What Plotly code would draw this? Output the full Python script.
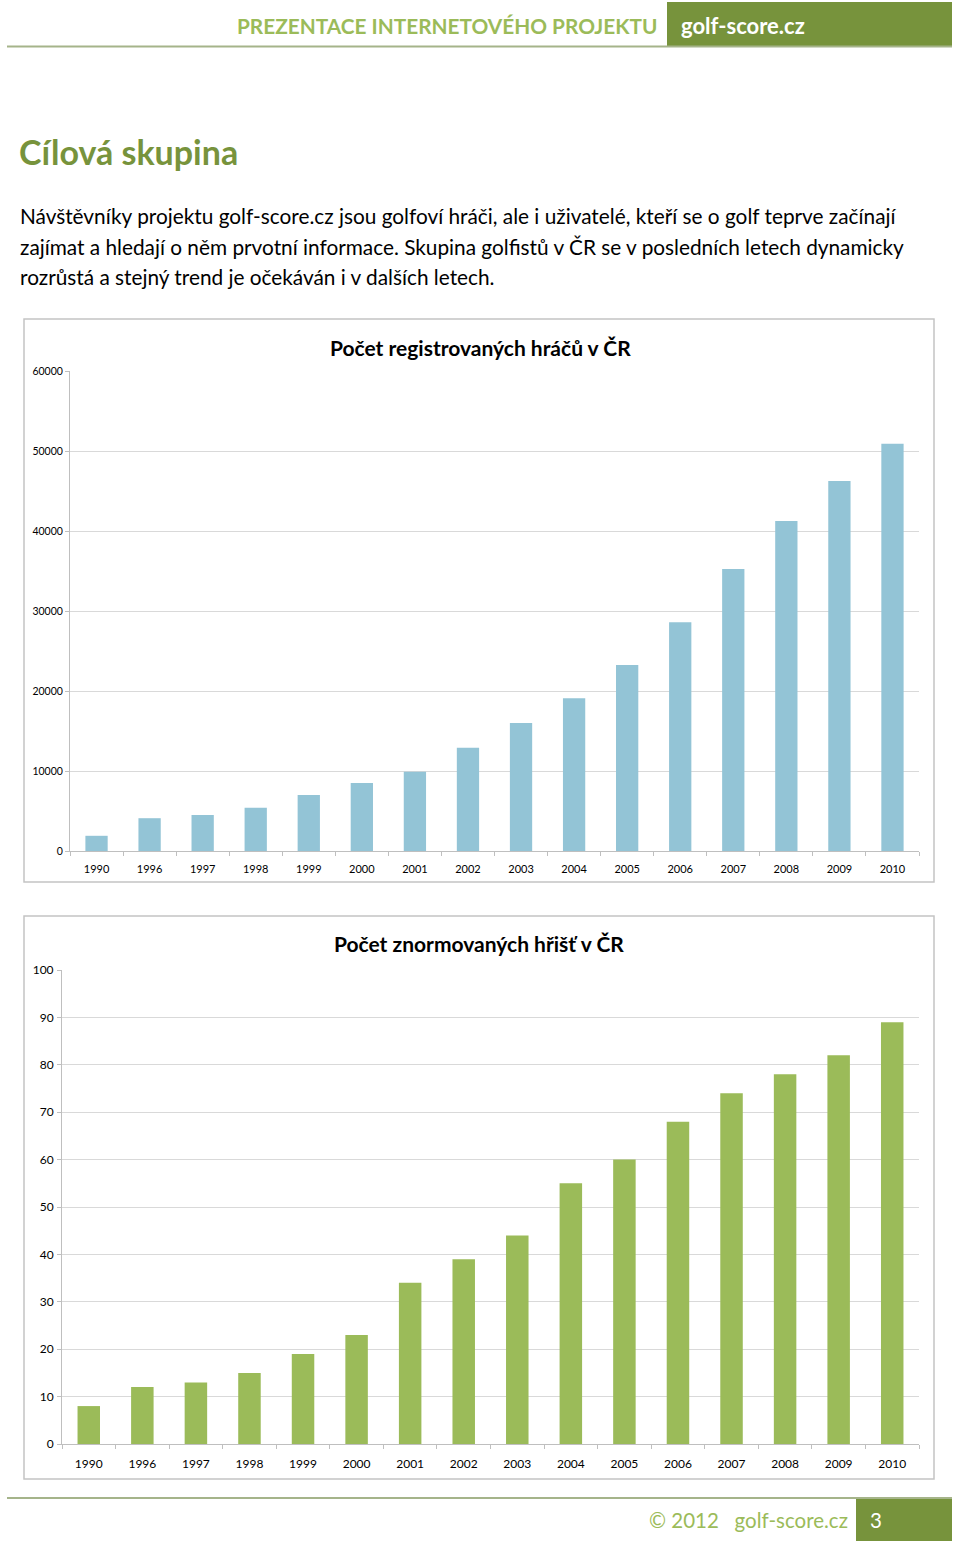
import plotly.graph_objects as go

years = ["1990", "1996", "1997", "1998", "1999", "2000", "2001", "2002",
         "2003", "2004", "2005", "2006", "2007", "2008", "2009", "2010"]
players = [1900, 4100, 4500, 5400, 7000, 8500, 9900, 12900,
           16000, 19100, 23250, 28600, 35250, 41250, 46250, 50900]
courses = [8, 12, 13, 15, 19, 23, 34, 39, 44, 55, 60, 68, 74, 78, 82, 89]

W, H = 960, 1545
FONT = "Lato"
GREEN_DARK = "#77933c"
GREEN_LIGHT = "#9bbb59"
BLUE = "#93c4d6"


def px(x):
    return x / W


def py(y):
    return 1 - y / H


fig = go.Figure()
fig.add_trace(go.Bar(x=years, y=players, marker=dict(color=BLUE, line=dict(width=0)),
                     xaxis="x", yaxis="y", hoverinfo="x+y"))
fig.add_trace(go.Bar(x=years, y=courses, marker=dict(color=GREEN_LIGHT, line=dict(width=0)),
                     xaxis="x2", yaxis="y2", hoverinfo="x+y"))

axis_common = dict(showline=True, linecolor="#bfbfbf", linewidth=1, automargin=False,
                   ticks="outside", tickcolor="#bfbfbf", ticklen=4)

fig.update_layout(
    width=W, height=H,
    margin=dict(l=0, r=0, t=0, b=0, pad=0, autoexpand=False),
    paper_bgcolor="white", plot_bgcolor="white",
    showlegend=False,
    bargap=0.58,
    xaxis=dict(domain=[px(70), px(919)], anchor="y", tickson="boundaries",
               showgrid=False, ticklabelstandoff=8,
               tickfont=dict(family=FONT, size=11, color="#000000"), **axis_common),
    yaxis=dict(domain=[py(851), py(371)], anchor="x", range=[0, 60000],
               dtick=10000, tickformat="d", showgrid=True, gridcolor="#d9d9d9", gridwidth=1,
               zeroline=False, ticklabelstandoff=0,
               tickfont=dict(family=FONT, size=10.5, color="#000000"), **axis_common),
    xaxis2=dict(domain=[px(62), px(919)], anchor="y2", tickson="boundaries",
                showgrid=False, ticklabelstandoff=9,
                tickfont=dict(family=FONT, size=12, color="#000000"), **axis_common),
    yaxis2=dict(domain=[py(1444), py(970)], anchor="x2", range=[0, 100],
                dtick=10, showgrid=True, gridcolor="#d9d9d9", gridwidth=1,
                zeroline=False, ticklabelstandoff=1,
                tickfont=dict(family=FONT, size=12, color="#000000"), **axis_common),
)

shapes = [
    # header box and rule
    dict(type="rect", xref="paper", yref="paper", x0=px(667), x1=px(952), y0=py(46), y1=py(2),
         fillcolor=GREEN_DARK, line=dict(width=0), layer="below"),
    dict(type="line", xref="paper", yref="paper", x0=px(7), x1=px(952), y0=py(46.5), y1=py(46.5),
         line=dict(color="#a5b48a", width=2)),
    # chart frames
    dict(type="rect", xref="paper", yref="paper", x0=px(24), x1=px(934), y0=py(882), y1=py(319),
         line=dict(color="#c4c4c4", width=1.5), fillcolor="rgba(0,0,0,0)", layer="below"),
    dict(type="rect", xref="paper", yref="paper", x0=px(24), x1=px(934), y0=py(1479), y1=py(916),
         line=dict(color="#c4c4c4", width=1.5), fillcolor="rgba(0,0,0,0)", layer="below"),
    # footer rule and box
    dict(type="line", xref="paper", yref="paper", x0=px(7), x1=px(952), y0=py(1498), y1=py(1498),
         line=dict(color="#a5b48a", width=2)),
    dict(type="rect", xref="paper", yref="paper", x0=px(856), x1=px(952), y0=py(1541), y1=py(1498),
         fillcolor=GREEN_DARK, line=dict(width=0), layer="below"),
]
fig.update_layout(shapes=shapes)


def text(x, y, s, size, color="#000000", bold=False, anchor="left"):
    fig.add_annotation(x=px(x), y=py(y), xref="paper", yref="paper", text=(f"<b>{s}</b>" if bold else s),
                       showarrow=False, xanchor=anchor, yanchor="middle",
                       font=dict(family=FONT, size=size, color=color))


text(235, 25, "PREZENTACE INTERNETOVÉHO PROJEKTU", 20.8, GREEN_LIGHT, bold=True)
text(679, 25, "golf-score.cz", 22, "white", bold=True)
text(17, 151, "Cílová skupina", 34, GREEN_DARK, bold=True)
para = ["Návštěvníky projektu golf-score.cz jsou golfoví hráči, ale i uživatelé, kteří se o golf teprve začínají",
        "zajímat a hledají o něm prvotní informace. Skupina golfistů v ČR se v posledních letech dynamicky",
        "rozrůstá a stejný trend je očekáván i v dalších letech."]
for i, line in enumerate(para):
    text(18, 215 + 31 * i, line, 20.8)
text(480, 347, "Počet registrovaných hráčů v ČR", 21, bold=True, anchor="center")
text(479, 944, "Počet znormovaných hřišť v ČR", 21, bold=True, anchor="center")
text(647, 1520, "©\u00a02012\u00a0\u00a0\u00a0golf-score.cz", 20.5, GREEN_LIGHT)
text(868, 1520, "3", 20.5, "white")

post = ("var d=document.getElementById('{plot_id}');"
        "document.documentElement.style.margin='0';"
        "document.body.style.margin='0';document.body.style.overflow='hidden';"
        "d.style.position='fixed';d.style.top='0px';d.style.left='0px';")
fig.write_html("out.html", config={"displayModeBar": False}, post_script=post)
